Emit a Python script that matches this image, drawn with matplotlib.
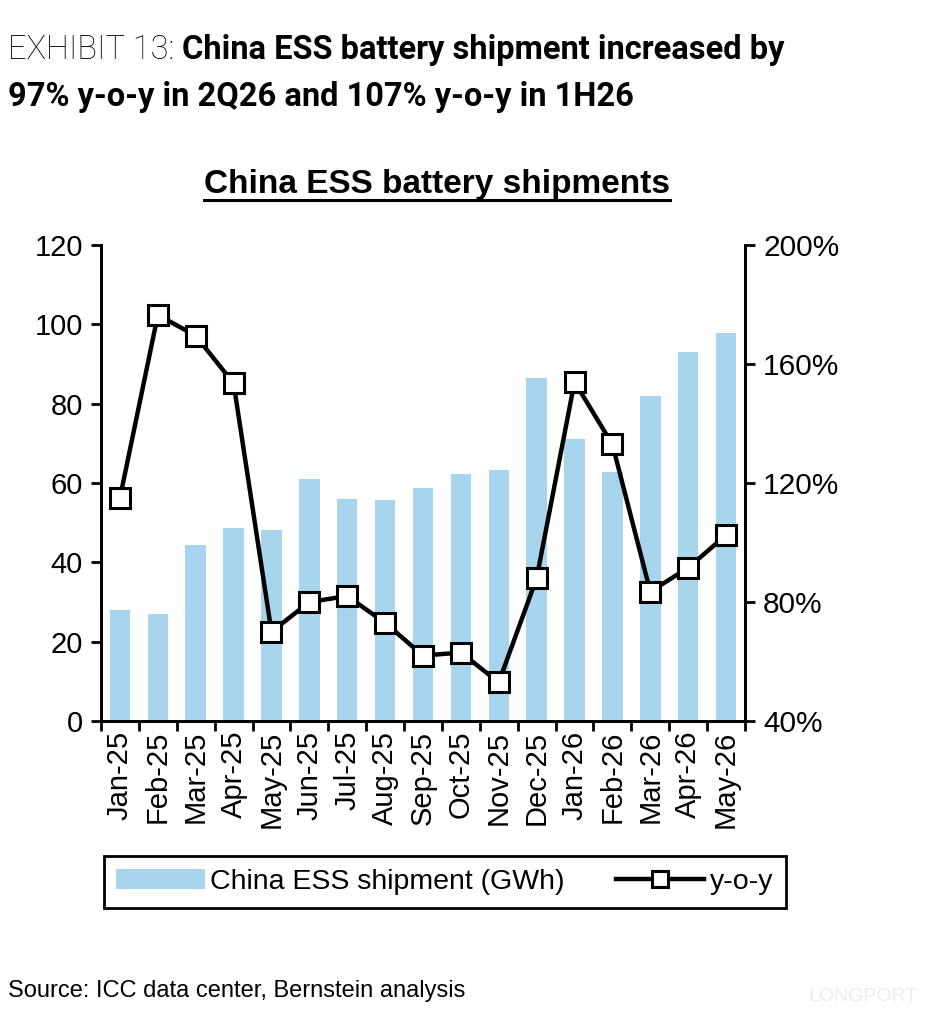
import matplotlib
matplotlib.use('Agg')
import matplotlib.pyplot as plt
import numpy as np

months = ['Jan-25', 'Feb-25', 'Mar-25', 'Apr-25', 'May-25', 'Jun-25', 'Jul-25', 'Aug-25',
          'Sep-25', 'Oct-25', 'Nov-25', 'Dec-25', 'Jan-26', 'Feb-26', 'Mar-26', 'Apr-26', 'May-26']
shipment_gwh = [28.0, 26.9, 44.4, 48.6, 48.2, 61.0, 56.0, 55.7,
                58.8, 62.2, 63.4, 86.6, 71.1, 62.8, 81.9, 93.0, 97.7]
yoy_pct = [115, 176.5, 169.5, 153.5, 70, 80, 82, 73,
           62, 63, 53, 88, 154, 133, 83.5, 91.5, 102.5]

plt.rcParams['font.family'] = ['Liberation Sans', 'DejaVu Sans']

fig = plt.figure(figsize=(9.31, 10.24), dpi=100)
ax = fig.add_axes([0.1085, 0.2959, 0.6917, 0.4648])
ax2 = ax.twinx()

x = np.arange(len(months))
bars = ax.bar(x, shipment_gwh, width=0.54, color='#a8d5ee', label='China ESS shipment (GWh)', zorder=1)
line, = ax2.plot(x, yoy_pct, color='black', lw=3.2, marker='s', ms=15,
                 mfc='white', mec='black', mew=2.2, label='y-o-y', zorder=3)

ax.set_xlim(-0.5, len(months) - 0.5)
ax.set_ylim(0, 120)
ax.set_yticks(range(0, 121, 20))
ax2.set_ylim(40, 200)
ax2.set_yticks(range(40, 201, 40))
ax2.set_yticklabels(['{}%'.format(v) for v in range(40, 201, 40)])

ax.set_xticks(x)
ax.set_xticklabels(months, rotation=90, fontsize=21)
ax.set_xticks(np.arange(-0.5, len(months), 1), minor=True)
ax.tick_params(axis='x', which='major', length=0, pad=7)
ax.tick_params(axis='x', which='minor', length=7, width=2, direction='out')
ax.tick_params(axis='y', labelsize=21, length=7, width=2, direction='out', pad=6)
ax2.tick_params(axis='y', labelsize=21.5, length=7, width=2, direction='out', pad=6)

for a in (ax, ax2):
    a.spines['top'].set_visible(False)
    for s in ('left', 'right', 'bottom'):
        a.spines[s].set_linewidth(2)
ax.set_zorder(ax2.get_zorder() - 1)
ax2.patch.set_visible(False)
ax.patch.set_visible(False)

# header
t1 = fig.text(0.009, 0.951, 'EXHIBIT 13: ', fontsize=23.5, family='Roboto', fontweight='light', va='center')
fig.canvas.draw()
bb = t1.get_window_extent()
fig.text(bb.x1 / fig.bbox.width, 0.951, 'China ESS battery shipment increased by',
         fontsize=23.5, family='Roboto', fontweight='bold', va='center')
fig.text(0.009, 0.905, '97% y-o-y in 2Q26 and 107% y-o-y in 1H26',
         fontsize=23.5, family='Roboto', fontweight='bold', va='center')

# chart title with underline
tt = fig.text(0.469, 0.820, 'China ESS battery shipments', fontsize=24, fontweight='bold',
              ha='center', va='center')
fig.canvas.draw()
tb = tt.get_window_extent()
fig.add_artist(plt.Line2D([tb.x0 / fig.bbox.width, tb.x1 / fig.bbox.width],
                          [0.8045, 0.8045], color='black', lw=2.2))

leg = fig.legend(handles=[bars, line], loc='center', bbox_to_anchor=(0.478, 0.1385),
                 ncol=2, fontsize=20.5, frameon=True, fancybox=False, edgecolor='black',
                 framealpha=1, markerscale=0.75,
                 handlelength=3.1, columnspacing=1.8, borderpad=0.45, handletextpad=0.2,
                 borderaxespad=0)
leg.get_frame().set_linewidth(2)

fig.text(0.009, 0.032, 'Source: ICC data center, Bernstein analysis', fontsize=17, va='center')
fig.text(0.985, 0.027, 'LONGPORT', fontsize=14, color='#ececec', ha='right', va='center')

fig.savefig('out.png', dpi=100)
